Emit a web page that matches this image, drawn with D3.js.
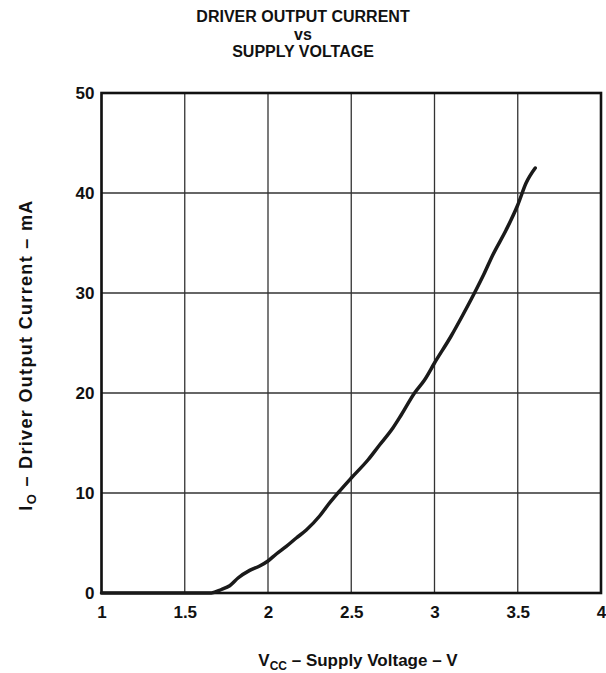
<!DOCTYPE html>
<html>
<head>
<meta charset="utf-8">
<script src="https://cdn.jsdelivr.net/npm/d3@7"></script>
<style>
  body { margin: 0; background: #fff; }
  text { font-family: "Liberation Sans", Arial, sans-serif; font-weight: bold; fill: #111; }
</style>
</head>
<body>
<script>
// supply voltage (V) and driver output current (mA)
var vcc = [1.0, 1.3, 1.5, 1.66, 1.72, 1.77, 1.82, 1.89, 1.95, 2.0, 2.05, 2.11, 2.17, 2.23, 2.31, 2.36, 2.42, 2.5,
           2.6, 2.67, 2.75, 2.8, 2.88, 2.94, 3.0, 3.1, 3.17, 3.24, 3.3, 3.35, 3.43, 3.5, 3.55, 3.605];
var io  = [0, 0, 0, 0, 0.35, 0.73, 1.5, 2.26, 2.7, 3.2, 3.9, 4.66, 5.5, 6.3, 7.7, 8.8, 10.0, 11.5,
           13.3, 14.8, 16.5, 17.8, 20.0, 21.3, 23.0, 25.7, 27.8, 30.0, 32.0, 33.8, 36.3, 38.8, 41.0, 42.5];
var xTicks = [1, 1.5, 2, 2.5, 3, 3.5, 4];
var yTicks = [0, 10, 20, 30, 40, 50];
var titleLines = ["DRIVER OUTPUT CURRENT", "vs", "SUPPLY VOLTAGE"];

var svg = d3.select("body").append("svg").attr("width", 606).attr("height", 673);

var x = d3.scaleLinear().domain([1, 4]).range([101.5, 601]);
var y = d3.scaleLinear().domain([0, 50]).range([593, 93]);

// grid
svg.append("g").selectAll("line").data(xTicks).enter().append("line")
    .attr("x1", function (d) { return x(d); })
    .attr("x2", function (d) { return x(d); })
    .attr("y1", y(0)).attr("y2", y(50))
    .attr("stroke", "#333").attr("stroke-width", 1.3);
svg.append("g").selectAll("line").data(yTicks).enter().append("line")
    .attr("y1", function (d) { return y(d); })
    .attr("y2", function (d) { return y(d); })
    .attr("x1", x(1)).attr("x2", x(4))
    .attr("stroke", "#333").attr("stroke-width", 1.3);

// frame
svg.append("rect")
    .attr("x", x(1)).attr("y", y(50))
    .attr("width", x(4) - x(1)).attr("height", y(0) - y(50))
    .attr("fill", "none").attr("stroke", "#111").attr("stroke-width", 2.6);

// tick labels via d3 axes, domain and ticks hidden
var xAxis = svg.append("g").attr("transform", "translate(0," + y(0) + ")")
    .call(d3.axisBottom(x).tickValues(xTicks).tickSize(0).tickPadding(13).tickFormat(d3.format("")));
var yAxis = svg.append("g").attr("transform", "translate(" + x(1) + ",0)")
    .call(d3.axisLeft(y).tickValues(yTicks).tickSize(0).tickPadding(7));
[xAxis, yAxis].forEach(function (a) {
    a.select(".domain").remove();
    a.selectAll("text").attr("font-size", 17).attr("font-family", "Liberation Sans, Arial, sans-serif")
        .attr("font-weight", "bold").attr("fill", "#111");
});

// curve
var pts = vcc.map(function (v, i) { return [v, io[i]]; });
svg.append("path")
    .datum(pts)
    .attr("fill", "none")
    .attr("stroke", "#1a1a1a")
    .attr("stroke-width", 3.5)
    .attr("stroke-linejoin", "round")
    .attr("stroke-linecap", "round")
    .attr("d", d3.line()
        .x(function (d) { return x(d[0]); })
        .y(function (d) { return y(d[1]); })
        .curve(d3.curveMonotoneX));

// title
svg.append("g").selectAll("text").data(titleLines).enter().append("text")
    .attr("x", 303)
    .attr("y", function (d, i) { return 22 + i * 17.5; })
    .attr("text-anchor", "middle")
    .attr("font-size", 16)
    .text(function (d) { return d; });

// x title
var xt = svg.append("text").attr("x", 358).attr("y", 666).attr("text-anchor", "middle").attr("font-size", 17);
xt.append("tspan").text("V");
xt.append("tspan").attr("font-size", 12).attr("dy", 4).text("CC");
xt.append("tspan").attr("dy", -4).text(" – Supply Voltage – V");

// y title, spread to the length it has in the reference
var yt = svg.append("text").attr("transform", "translate(32,355) rotate(-90)")
    .attr("text-anchor", "middle").attr("font-size", 18);
yt.append("tspan").text("I");
yt.append("tspan").attr("font-size", 13).attr("dy", 4).text("O");
yt.append("tspan").attr("dy", -4).text(" – Driver Output Current – mA");
var w = yt.node().getBBox().width;
var nChars = "IO – Driver Output Current – mA".length;
yt.attr("letter-spacing", ((310 - w) / (nChars - 1)) + "px");
</script>
</body>
</html>
